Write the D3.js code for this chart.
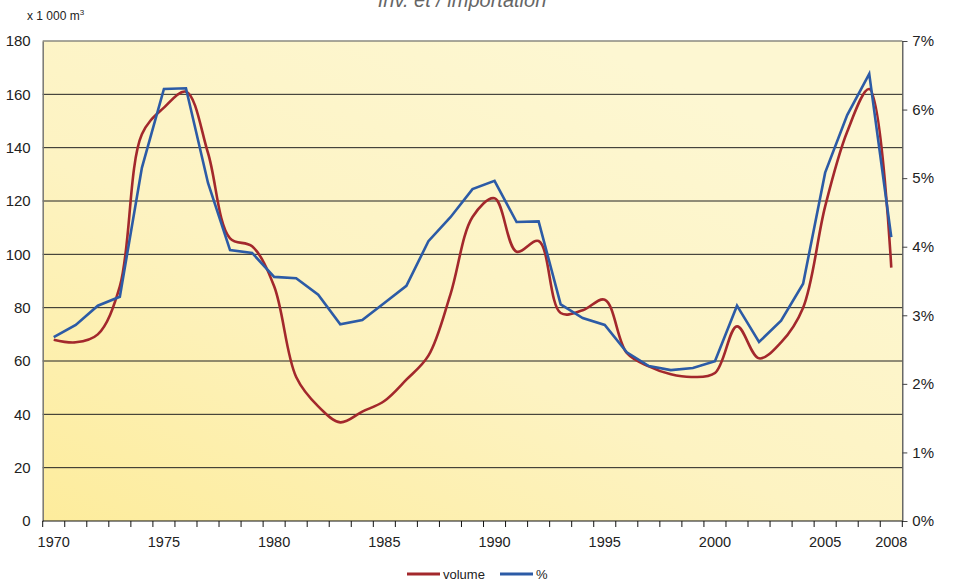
<!DOCTYPE html>
<html>
<head>
<meta charset="utf-8">
<script src="https://cdn.jsdelivr.net/npm/d3@7"></script>
<style>
  body { margin: 0; background: #fff; }
  svg { display: block; }
  text { font-family: "Liberation Sans", Arial, sans-serif; fill: #222; }
</style>
</head>
<body>
<div id="chart"></div>
<script>
// Categories (years)
const years = [1970, 1971, 1972, 1973, 1974, 1975, 1976, 1977, 1978, 1979,
               1980, 1981, 1982, 1983, 1984, 1985, 1986, 1987, 1988, 1989,
               1990, 1991, 1992, 1993, 1994, 1995, 1996, 1997, 1998, 1999,
               2000, 2001, 2002, 2003, 2004, 2005, 2006, 2007, 2008];

// volume, x 1 000 m3 (left axis)
const volume = [68, 67, 70, 88, 145, 155, 161, 138, 106, 103,
                88, 54, 43, 37, 41, 45, 53, 62, 85, 114,
                121, 101, 105, 78, 79, 83, 63, 58, 55, 54,
                55.5, 73, 61, 67, 80, 118, 146, 162, 95];

// share, % (right axis)
const pct = [2.68, 2.86, 3.14, 3.27, 5.15, 6.30, 6.31, 4.93, 3.95, 3.91,
             3.56, 3.54, 3.30, 2.87, 2.93, 3.18, 3.43, 4.08, 4.43, 4.84,
             4.96, 4.36, 4.37, 3.16, 2.96, 2.86, 2.46, 2.26, 2.20, 2.23,
             2.33, 3.14, 2.61, 2.92, 3.46, 5.08, 5.92, 6.52, 4.14];

const xLabelYears = [1970, 1975, 1980, 1985, 1990, 1995, 2000, 2005, 2008];
const leftTicks = [0, 20, 40, 60, 80, 100, 120, 140, 160, 180];
const rightTicks = [0, 1, 2, 3, 4, 5, 6, 7];
const seriesNames = ['volume', '%'];
const seriesColors = ['#a3282c', '#2c5ba6'];

const W = 953, H = 582;
const plot = { left: 42.7, right: 902.3, top: 41, bottom: 521 };

const svg = d3.select('#chart').append('svg')
    .attr('width', W).attr('height', H);

// background gradient
const defs = svg.append('defs');
const grad = defs.append('linearGradient')
    .attr('id', 'bg')
    .attr('x1', 0).attr('y1', 1).attr('x2', 0.75).attr('y2', 0.1);
grad.append('stop').attr('offset', 0).attr('stop-color', '#fdec9c');
grad.append('stop').attr('offset', 0.5).attr('stop-color', '#fdf3c2');
grad.append('stop').attr('offset', 1).attr('stop-color', '#fdf7d2');

svg.append('rect')
    .attr('x', plot.left).attr('y', plot.top)
    .attr('width', plot.right - plot.left).attr('height', plot.bottom - plot.top)
    .attr('fill', 'url(#bg)');

// scales
const x = d3.scaleBand().domain(years).range([plot.left, plot.right]).padding(0);
const cx = d => x(d) + x.bandwidth() / 2;
const yL = d3.scaleLinear().domain([0, 180]).range([plot.bottom, plot.top]);
const yR = d3.scaleLinear().domain([0, 7]).range([plot.bottom, plot.top]);

// title (cut off at the top)
svg.append('text')
    .attr('x', 462).attr('y', 7)
    .attr('text-anchor', 'middle')
    .style('font-size', '20px')
    .style('font-style', 'italic')
    .style('fill', '#666')
    .text('Inv. et / importation');

// unit label
const unit = svg.append('text')
    .attr('x', 27).attr('y', 20)
    .style('font-size', '12px');
unit.append('tspan').text('x 1 000 m');
unit.append('tspan').attr('dy', -5).style('font-size', '8px').text('3');

// gridlines
svg.append('g')
    .selectAll('line')
    .data(leftTicks.filter(v => v > 0 && v < 180))
    .enter()
    .append('line')
    .attr('x1', plot.left).attr('x2', plot.right)
    .attr('y1', d => yL(d)).attr('y2', d => yL(d))
    .attr('stroke', '#222').attr('stroke-width', 1);

// top border
svg.append('line')
    .attr('x1', plot.left).attr('x2', plot.right)
    .attr('y1', yL(180)).attr('y2', yL(180))
    .attr('stroke', '#8a8a80').attr('stroke-width', 1.5);

// left axis
const leftAxis = svg.append('g')
    .attr('transform', `translate(${plot.left},0)`)
    .call(d3.axisLeft(yL).tickValues(leftTicks).tickSize(0).tickPadding(12));
leftAxis.select('.domain').attr('stroke', '#777').attr('stroke-width', 1.5);
leftAxis.selectAll('text').style('font-size', '15px')
    .style('font-family', '"Liberation Sans", Arial, sans-serif').attr('fill', '#222');

// right axis
const rightAxis = svg.append('g')
    .attr('transform', `translate(${plot.right},0)`)
    .call(d3.axisRight(yR).tickValues(rightTicks).tickSize(5).tickPadding(5)
        .tickFormat(d => d + '%'));
rightAxis.select('.domain').attr('stroke', '#444').attr('stroke-width', 1.2);
rightAxis.selectAll('.tick line').attr('stroke', '#444');
rightAxis.selectAll('text').style('font-size', '15px')
    .style('font-family', '"Liberation Sans", Arial, sans-serif').attr('fill', '#222');

// bottom axis: line, ticks at category boundaries, labels at centres
const bottom = svg.append('g');
bottom.append('line')
    .attr('x1', plot.left).attr('x2', plot.right)
    .attr('y1', plot.bottom).attr('y2', plot.bottom)
    .attr('stroke', '#111').attr('stroke-width', 1.2);
const bounds = years.map(d => x(d)).concat([plot.right]);
bottom.selectAll('line.tk')
    .data(bounds)
    .enter()
    .append('line')
    .attr('class', 'tk')
    .attr('x1', d => d).attr('x2', d => d)
    .attr('y1', plot.bottom).attr('y2', plot.bottom + 6)
    .attr('stroke', '#111');
bottom.selectAll('text')
    .data(xLabelYears)
    .enter()
    .append('text')
    .attr('x', d => cx(d))
    .attr('y', 547)
    .attr('text-anchor', 'middle')
    .style('font-size', '14.5px')
    .text(d => d);

// series
const lineVol = d3.line()
    .x((d, i) => cx(years[i]))
    .y(d => yL(d))
    .curve(d3.curveCatmullRom.alpha(0.5));
const linePct = d3.line()
    .x((d, i) => cx(years[i]))
    .y(d => yR(d));

svg.append('path')
    .datum(volume)
    .attr('d', lineVol)
    .attr('fill', 'none')
    .attr('stroke', seriesColors[0])
    .attr('stroke-width', 2.6)
    .attr('stroke-linejoin', 'round');

svg.append('path')
    .datum(pct)
    .attr('d', linePct)
    .attr('fill', 'none')
    .attr('stroke', seriesColors[1])
    .attr('stroke-width', 2.6)
    .attr('stroke-linejoin', 'miter');

// legend
const legend = svg.append('g').attr('transform', 'translate(0,574)');
const legendX = [407, 500];
seriesNames.forEach((name, i) => {
    legend.append('line')
        .attr('x1', legendX[i]).attr('x2', legendX[i] + 33)
        .attr('y1', 0).attr('y2', 0)
        .attr('stroke', seriesColors[i]).attr('stroke-width', 3);
    legend.append('text')
        .attr('x', legendX[i] + 36).attr('y', 5)
        .style('font-size', '13px')
        .text(name);
});
</script>
</body>
</html>
